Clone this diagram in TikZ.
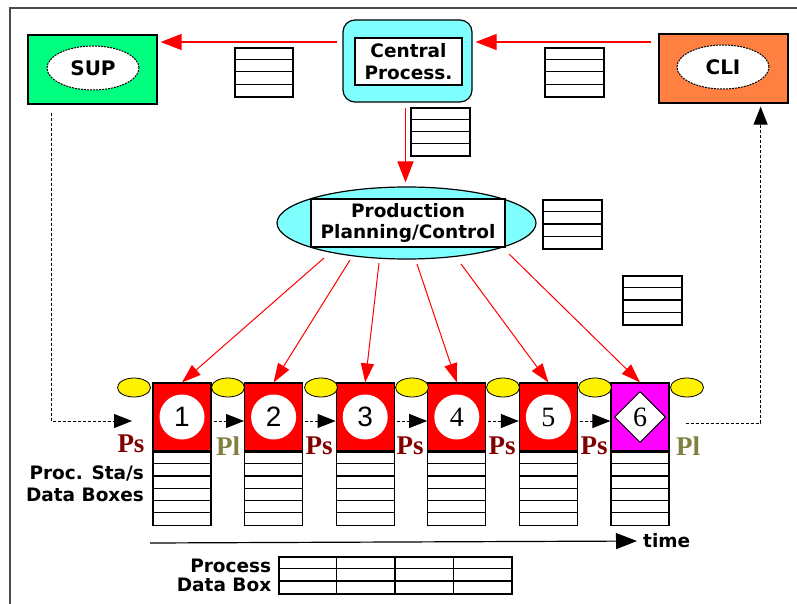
\documentclass[tikz,border=0pt]{standalone}
\usepackage{fontspec}
\setmainfont{DejaVu Sans}
\newfontfamily\numsans{Liberation Sans}
\newfontfamily\numserif{Liberation Serif}
\usetikzlibrary{arrows.meta,shapes.geometric}

\definecolor{supgreen}{RGB}{0,255,128}
\definecolor{cliorange}{RGB}{255,128,64}
\definecolor{cpucyan}{RGB}{128,255,255}
\definecolor{lastpink}{RGB}{255,0,255}
\definecolor{psred}{RGB}{128,0,0}
\definecolor{plolive}{RGB}{128,128,64}

% name, options, width, rows, row height
\newcommand{\datastack}[5]{%
  \node[stackframe, minimum width=#3, minimum height=#4*#5, #2] (#1) {};
  \pgfmathtruncatemacro{\lastrow}{#4-1}%
  \foreach \r in {1,...,\lastrow}
    \draw[stackline] ([yshift=-\r*#5]#1.north west) -- ([yshift=-\r*#5]#1.north east);
}

\begin{document}
\begin{tikzpicture}[x=1pt, y=-1pt,
  unitbox/.style={draw, line width=1.2pt, minimum width=129pt, minimum height=69pt, inner sep=0pt},
  tag/.style={draw, dash pattern=on 2pt off 1pt, line width=1pt, fill=white, ellipse, minimum width=92pt, minimum height=44pt, inner sep=0pt, font=\bfseries\fontsize{20}{24}\selectfont},
  textbox/.style={draw, fill=white, line width=1.2pt, inner sep=0pt, align=center, font=\bfseries\fontsize{18.5}{21.5}\selectfont},
  captext/.style={inner sep=1pt, font=\bfseries\fontsize{18.5}{22}\selectfont},
  station/.style={draw, fill=red, line width=1.2pt, minimum width=58pt, minimum height=68pt, inner sep=0pt},
  disc/.style={circle, fill=white, minimum size=45pt, inner sep=0pt},
  buffer/.style={ellipse, draw, fill=yellow, line width=0.8pt, minimum width=33pt, minimum height=19pt, inner sep=0pt},
  tagletter/.style={inner sep=0pt, font=\numserif\bfseries\fontsize{27}{27}\selectfont},
  stackframe/.style={draw, line width=1.2pt, inner sep=0pt},
  stackline/.style={line width=1.2pt},
  command/.style={red, line width=1.2pt, -{Triangle[length=21pt, width=16pt]}},
  order/.style={red, line width=1pt, -{Triangle[length=19pt, width=13pt]}},
  feed/.style={densely dashed, line width=1pt, -{Triangle[length=18pt, width=14pt]}},
  timeline/.style={line width=1.2pt, -{Triangle[length=21pt, width=16pt]}}]
\useasboundingbox (0,0) rectangle (797,604);

% frame
\draw[line width=1.5pt, black!70] (10,604) -- (10,8) -- (797,8);

% top row
\node[unitbox, fill=supgreen] (sup) at (92.5,69.5) {};
\node[tag] (suptag) at (93,68) {SUP};
\node[unitbox, fill=cliorange] (cli) at (723.5,68.5) {};
\node[tag] (clitag) at (723,67) {CLI};
\node[draw, fill=cpucyan, rounded corners=12pt, line width=1.2pt, minimum width=129pt, minimum height=82pt] (cpu) at (407.5,61) {};
\node[textbox, minimum width=107pt, minimum height=47pt] (cputxt) at (408.5,61.5) {Central\\Process.};

% planning
\node[draw, fill=cpucyan, ellipse, line width=1.2pt, minimum width=259pt, minimum height=72pt, inner sep=0pt] (pp) at (406.5,223) {};
\node[textbox, minimum width=194pt, minimum height=48pt] (pptxt) at (408,223) {Production\\Planning/Control};

% data boxes
\datastack{db1}{at={(264,72.5)}}{58}{4}{12.25}
\datastack{db2}{at={(574.5,72.5)}}{59}{4}{12.25}
\datastack{db3}{at={(440.5,132)}}{59}{4}{12}
\datastack{db4}{at={(572.5,224.5)}}{59}{4}{12.25}
\datastack{db5}{at={(652.5,300.5)}}{59}{4}{12.25}

% stations
\foreach \i in {1,...,5}
  \node[station] (st\i) at ({182+91.6*(\i-1)},417) {};
\node[station, fill=lastpink] (st6) at (640,417) {};
\foreach \i/\f in {1/\numsans,2/\numsans,3/\numsans,4/\numserif,5/\numserif}
  \node[disc, font=\f\fontsize{28}{28}\selectfont] (n\i) at (st\i) {\i};
\node[diamond, draw, fill=white, line width=1pt, minimum width=51pt, minimum height=51pt, inner sep=0pt, font=\numserif\fontsize{28}{28}\selectfont] (n6) at (st6) {6};
\foreach \x [count=\k] in {134,228,321,412,503,595,687}
  \node[buffer] (bf\k) at (\x,387.5) {};
\foreach \i in {1,...,6}
  {\datastack{sd\i}{anchor=north, at=(st\i.south)}{58}{6}{12.17}}

% flows
\coordinate (toprow) at (0,42);
\draw[command, shorten <=7pt, shorten >=3pt] (cli.west |- toprow) -- (cpu.east |- toprow);
\draw[command, shorten <=5pt, shorten >=3pt] (cpu.west |- toprow) -- (sup.east |- toprow);
\draw[command, shorten <=5pt, shorten >=4pt] ([xshift=-2pt]cpu.south) -- ([xshift=-2pt]cpu.south |- pp.north);
\foreach \i/\sx/\sy in {1/324/258,2/350/260,3/379/263,4/417/264,5/461/264,6/509/254}
  {\coordinate (pp\i) at (\sx,\sy);
   \draw[order] (pp\i) -- (st\i.north);}
\foreach \i in {1,...,5}
  {\pgfmathtruncatemacro{\j}{\i+1}
   \draw[feed, shorten <=2pt] ([yshift=-4pt]st\i.east) -- ([yshift=-4pt]st\j.west);}
\coordinate (entry) at (132,421);
\draw[feed, shorten <=8pt] ([xshift=24pt]sup.south west) |- (entry);
\draw[feed, shorten >=3pt] ([xshift=16pt, yshift=-6pt]st6.east) -| ([xshift=-28pt]cli.south east);

% state labels
\foreach \t/\x/\y/\c [count=\k] in {Ps/131/444/psred,Pl/228/446/plolive,Ps/319/446/psred,Ps/410/446/psred,Ps/502/446/psred,Ps/594/446/psred,Pl/688/446/plolive}
  \node[tagletter, text=\c] (lt\k) at (\x,\y) {\t};
\node[captext, align=right] (sdlabel) at (85,484) {Proc. Sta/s\\Data Boxes};

% time axis
\coordinate (t0) at (150,543);
\node[captext, anchor=west] (time) at (642,541) {time};
\draw[timeline, shorten >=5pt] (t0) -- (time.west);

% process data box
\datastack{pdb}{at={(395.5,575.5)}}{233}{3}{12.33}
\foreach \c in {1,2,3}
  \draw[stackline] ([xshift=\c*58.25]pdb.north west) -- ([xshift=\c*58.25]pdb.south west);
\node[captext, align=right, anchor=east, font=\bfseries\fontsize{18.5}{19}\selectfont] (pdlabel) at ([xshift=-6pt]pdb.west) {Process\\Data Box};
\end{tikzpicture}
\end{document}
